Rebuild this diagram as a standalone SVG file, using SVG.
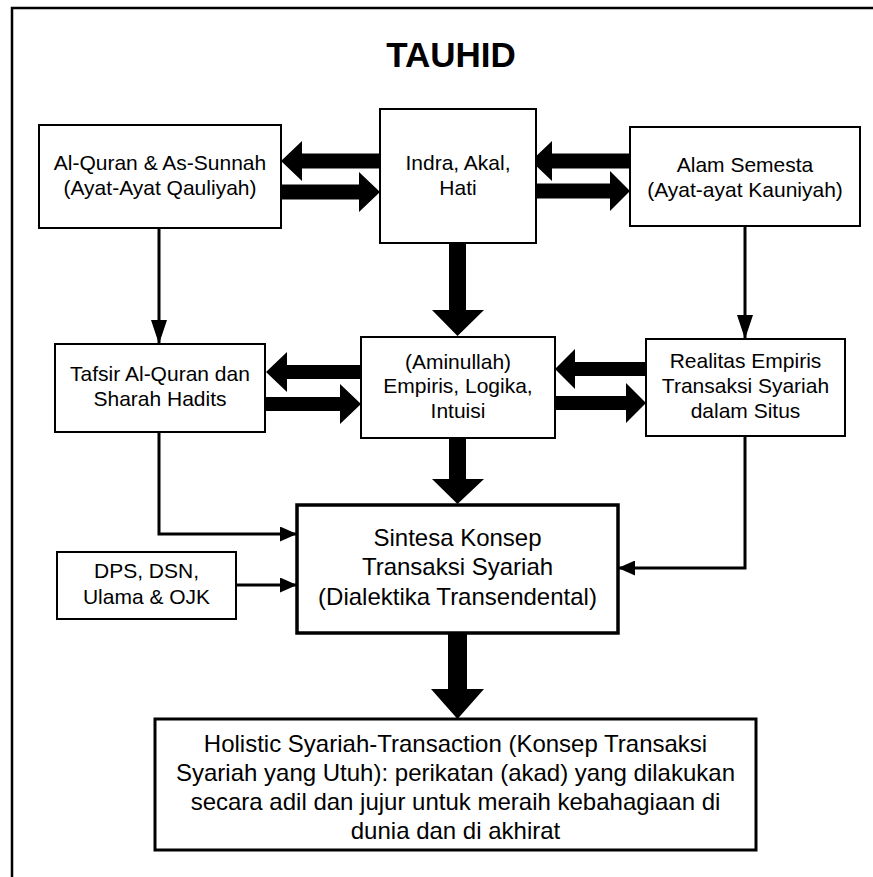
<svg xmlns="http://www.w3.org/2000/svg" width="873" height="877" viewBox="0 0 873 877">
<style>
text{font-family:"Liberation Sans",Arial,sans-serif;fill:#000;text-anchor:middle}
.t{font-size:21px}
.m{font-size:24px}
.h{font-size:24px}
.box{fill:#fff;stroke:#000;stroke-width:2}
.bx{fill:#fff;stroke:#000;stroke-width:3.5}
.fat{fill:#000;stroke:none}
.thin{fill:none;stroke:#000;stroke-width:3}
</style>
<defs>
<marker id="ah" markerUnits="userSpaceOnUse" markerWidth="24" markerHeight="16" refX="24" refY="8" orient="auto" viewBox="0 0 24 16"><path d="M0,0 L24,8 L0,16 Z" fill="#000"/></marker>
<marker id="as" markerUnits="userSpaceOnUse" markerWidth="17" markerHeight="15" refX="17" refY="7.5" orient="auto" viewBox="0 0 17 15"><path d="M0,0 L17,7.5 L0,15 Z" fill="#000"/></marker>
</defs>
<rect width="873" height="877" fill="#fff"/>
<path d="M12,877 V8 H873" fill="none" stroke="#000" stroke-width="2.5"/>
<text x="451" y="67" style="font-size:35px;font-weight:bold">TAUHID</text>

<g id="connectors">
<polygon class="fat" points="380,153.5 302,153.5 302,141 281,161 302,181 302,168.5 380,168.5"/>
<polygon class="fat" points="281,184.5 359,184.5 359,172 380,192 359,212 359,199.5 281,199.5"/>
<polygon class="fat" points="630,153.5 552,153.5 552,141 531,161 552,181 552,168.5 630,168.5"/>
<polygon class="fat" points="536,183.5 610,183.5 610,171 630,191 610,211 610,198.5 536,198.5"/>
<polygon class="fat" points="361,365 287,365 287,352 266,372 287,392 287,379 361,379"/>
<polygon class="fat" points="265,397 340,397 340,384 361,404 340,424 340,411 265,411"/>
<polygon class="fat" points="646,362 575,362 575,349 555,369 575,389 575,376 646,376"/>
<polygon class="fat" points="555,396 626,396 626,383 646,403 626,423 626,410 555,410"/>
<polygon class="fat" points="449,243 466,243 466,310 484,310 457.5,336 432,310 449,310"/>
<polygon class="fat" points="449,438 466,438 466,479 484,479 457.5,504 432,479 449,479"/>
<polygon class="fat" points="448,633 467,633 467,689 484,689 457.5,719 431,689 448,689"/>
<path class="thin" d="M159,228 V344" marker-end="url(#ah)"/>
<path class="thin" d="M745,226 V339" marker-end="url(#ah)"/>
<path class="thin" d="M159,432 V534 H297" marker-end="url(#as)"/>
<path class="thin" d="M236,585 H297" marker-end="url(#as)"/>
<path class="thin" d="M745,436 V568 H618" marker-end="url(#as)"/>
</g>

<g id="alquran">
<rect class="box" x="39" y="125" width="242" height="103"/>
<text class="t" x="160" y="170">Al-Quran &amp; As-Sunnah</text>
<text class="t" x="160" y="195">(Ayat-Ayat Qauliyah)</text>
</g>
<g id="indra">
<rect class="box" x="380" y="109" width="156" height="134"/>
<text class="t" x="458" y="170">Indra, Akal,</text>
<text class="t" x="458" y="195">Hati</text>
</g>
<g id="alam">
<rect class="box" x="630" y="127" width="230" height="99"/>
<text class="t" x="745" y="172">Alam Semesta</text>
<text class="t" x="745" y="197">(Ayat-ayat Kauniyah)</text>
</g>
<g id="tafsir">
<rect class="box" x="55" y="344" width="210" height="88"/>
<text class="t" x="160" y="381">Tafsir Al-Quran dan</text>
<text class="t" x="160" y="406">Sharah Hadits</text>
</g>
<g id="aminullah">
<rect class="box" x="361" y="337" width="194" height="101"/>
<text class="t" x="458" y="369">(Aminullah)</text>
<text class="t" x="458" y="393">Empiris, Logika,</text>
<text class="t" x="458" y="418">Intuisi</text>
</g>
<g id="realitas">
<rect class="box" x="646" y="339" width="199" height="97"/>
<text class="t" x="745.5" y="368">Realitas Empiris</text>
<text class="t" x="745.5" y="393">Transaksi Syariah</text>
<text class="t" x="745.5" y="418">dalam Situs</text>
</g>
<g id="dps">
<rect class="box" x="57" y="552" width="179" height="67"/>
<text class="t" x="146.5" y="578">DPS, DSN,</text>
<text class="t" x="146.5" y="604">Ulama &amp; OJK</text>
</g>
<g id="sintesa">
<rect class="bx" x="297" y="505" width="321" height="128"/>
<text class="m" x="457.5" y="546">Sintesa Konsep</text>
<text class="m" x="457.5" y="575">Transaksi Syariah</text>
<text class="m" x="457.5" y="605">(Dialektika Transendental)</text>
</g>
<g id="holistic">
<rect class="bx" style="stroke-width:3" x="155" y="719" width="601" height="131"/>
<text class="h" x="455.5" y="752">Holistic Syariah-Transaction (Konsep Transaksi</text>
<text class="h" x="455.5" y="781">Syariah yang Utuh): perikatan (akad) yang dilakukan</text>
<text class="h" x="455.5" y="810">secara adil dan jujur untuk meraih kebahagiaan di</text>
<text class="h" x="455.5" y="839">dunia dan di akhirat</text>
</g>
</svg>
